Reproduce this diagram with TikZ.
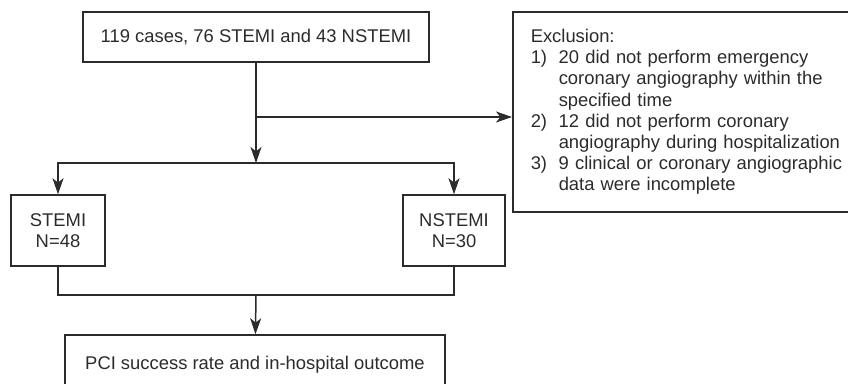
\documentclass[tikz,border=0pt]{standalone}
\usepackage{fontspec}
\setmainfont{Liberation Sans}
\usetikzlibrary{arrows.meta}

\definecolor{ink}{HTML}{2B2B2B}

\begin{document}
\begin{tikzpicture}[x=0.5pt, y=-0.5pt,
every node/.style={font=\fontsize{9.2}{10.6}\selectfont, text=ink},
box/.style={rectangle, draw=ink, line width=0.75pt, inner sep=0pt, align=center},
flow/.style={draw=ink, line width=0.75pt, -{Stealth[length=8pt, width=5.5pt, inset=2.2pt]}},
link/.style={draw=ink, line width=0.75pt}
]
\useasboundingbox (0,0) rectangle (848,384);

\node [box, minimum width=173pt, minimum height=25pt] (cases) at (256,37) {119 cases, 76 STEMI and 43 NSTEMI};
\node [box, anchor=west, minimum height=100pt, text width=170pt, inner xsep=9pt, align=left] (excl) at (512,112)
  {Exclusion:\\
   \makebox[14pt][l]{1)}20 did not perform emergency\\
   \hspace*{14pt}coronary angiography within the\\
   \hspace*{14pt}specified time\\
   \makebox[14pt][l]{2)}12 did not perform coronary\\
   \hspace*{14pt}angiography during hospitalization\\
   \makebox[14pt][l]{3)}9 clinical or coronary angiographic\\
   \hspace*{14pt}data were incomplete};

\node [box, minimum width=47pt, minimum height=35.5pt] (stemi) at (58,230.5) {STEMI\\N=48};
\node [box, minimum width=51pt, minimum height=35.5pt] (nstemi) at (454,230.5) {NSTEMI\\N=30};

\node [box, minimum width=190pt, minimum height=30pt] (pci) at (255,365) {PCI success rate and in-hospital outcome};

\coordinate (tap) at (256,117);
\coordinate (fork) at (256,163);
\coordinate (join) at (256,295);

\draw [flow] (cases) -- (fork);
\draw [flow] (tap) -- (excl.west |- tap);
\draw [flow] (fork) -| (stemi);
\draw [flow] (fork) -| (nstemi);

\draw [link] (stemi) |- (join) -| (nstemi);
\draw [flow] (join) -- (pci);

\end{tikzpicture}
\end{document}
